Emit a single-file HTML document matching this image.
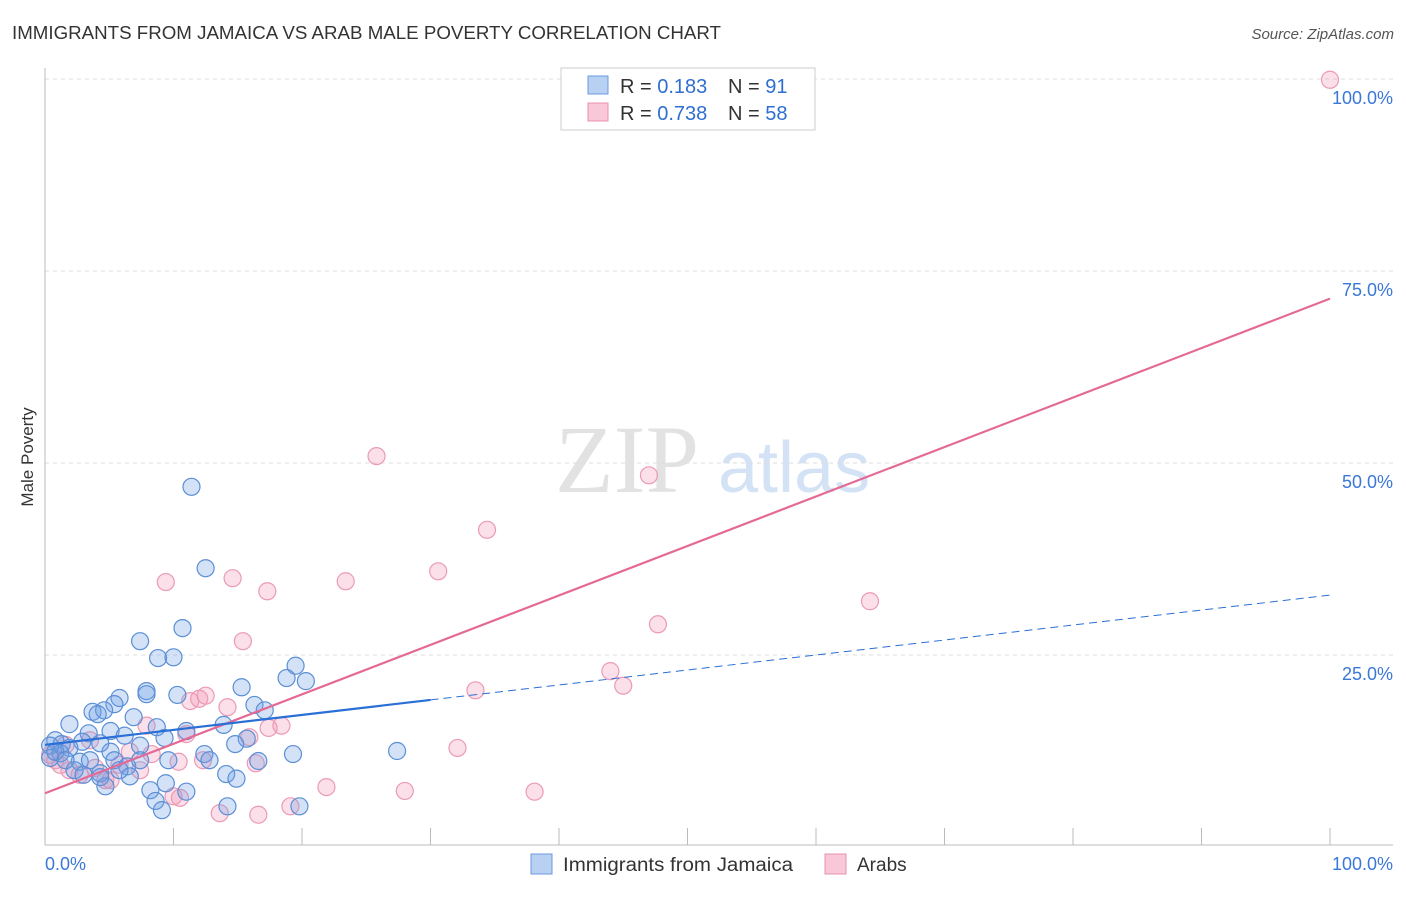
<!DOCTYPE html>
<html><head><meta charset="utf-8"><style>
body{margin:0;background:#fff;font-family:"Liberation Sans",sans-serif}
</style></head><body>
<svg id="c" width="1406" height="892" xmlns="http://www.w3.org/2000/svg" font-family="Liberation Sans, sans-serif">
<text x="12" y="39" font-size="18" fill="#333" textLength="709" lengthAdjust="spacingAndGlyphs">IMMIGRANTS FROM JAMAICA VS ARAB MALE POVERTY CORRELATION CHART</text>
<text x="1394" y="39" font-size="15" fill="#555" font-style="italic" text-anchor="end">Source: ZipAtlas.com</text>
<text x="33" y="457" font-size="17" fill="#333" text-anchor="middle" transform="rotate(-90 33 457)">Male Poverty</text>
<text x="555" y="492" font-size="96" fill="#e2e2e2" font-family="Liberation Serif, serif">ZIP</text>
<text x="718" y="492" font-size="72" fill="#d3e2f5">atlas</text>
<g id="grid"></g><g id="pts"></g><g id="lines"></g>
<g>
<rect x="561" y="68" width="254" height="62" fill="#fff" stroke="#ccc"/>
<rect x="588" y="76" width="20" height="18" fill="#b8d0f2" stroke="#6a9ae0"/>
<rect x="588" y="103" width="20" height="18" fill="#f8c8d8" stroke="#e890ae"/>
<text x="620" y="93" font-size="20" fill="#333">R = <tspan fill="#2f6fd0">0.183</tspan></text>
<text x="728" y="93" font-size="20" fill="#333">N = <tspan fill="#2f6fd0">91</tspan></text>
<text x="620" y="120" font-size="20" fill="#333">R = <tspan fill="#2f6fd0">0.738</tspan></text>
<text x="728" y="120" font-size="20" fill="#333">N = <tspan fill="#2f6fd0">58</tspan></text>
</g>
<g>
<rect x="531" y="854" width="21" height="20" fill="#b8d0f2" stroke="#6a9ae0"/>
<text x="563" y="871" font-size="19" fill="#333" textLength="230" lengthAdjust="spacingAndGlyphs">Immigrants from Jamaica</text>
<rect x="825" y="854" width="21" height="20" fill="#f8c8d8" stroke="#e890ae"/>
<text x="857" y="871" font-size="19" fill="#333">Arabs</text>
</g>
</svg>
<script>
const blueX=[11.4,12.5,10.7,7.4,8.8,10.0,19.5,20.3,18.8,15.3,7.9,7.9,10.3,5.8,5.4,16.3,3.7,4.6,4.1,17.1,6.9,1.9,13.9,8.7,11.0,5.1,3.4,6.2,9.3,15.7,0.8,2.9,4.3,1.3,14.8,0.4,1.9,7.4,5.1,1.2,19.3,27.4,12.4,12.8,9.6,16.6,5.4,2.7,6.4,0.4,2.3,3.0,4.3,6.6,14.1,14.9,4.7,9.4,8.2,11.0,8.6,14.2,19.8,9.1,4.3,0.8,1.6,3.5,5.8,7.4];
const blueY=[46.9,36.3,28.5,26.8,24.6,24.7,23.6,21.6,22.0,20.8,20.3,19.9,19.8,19.4,18.6,18.5,17.6,17.8,17.3,17.8,16.9,16.0,15.9,15.6,15.1,15.1,14.8,14.5,14.2,14.1,13.9,13.7,13.5,13.4,13.4,13.2,12.9,13.2,12.4,12.2,12.1,12.5,12.1,11.3,11.3,11.2,11.3,11.1,10.5,11.6,10.0,9.4,9.6,9.2,9.5,8.9,7.9,8.3,7.4,7.2,6.0,5.3,5.3,4.8,9.1,12.4,11.3,11.3,10.0,11.3];
const pinkX=[100,25.8,47.0,34.4,9.4,14.6,23.4,30.6,17.3,64.2,47.7,15.4,44.0,45.0,33.5,12.5,12.0,11.3,14.2,7.9,17.4,18.4,11.0,15.9,32.1,6.6,8.3,10.4,16.4,12.3,21.9,28.0,38.1,10.0,10.5,13.6,16.6,19.1,4.7,2.7,1.2,0.8,0.4,1.9,3.9,5.8,5.1,7.4,3.5,1.6];
const pinkY=[99.9,50.9,48.4,41.3,34.5,35.0,34.6,35.9,33.3,32.0,29.0,26.8,22.9,21.0,20.4,19.7,19.3,19.0,18.2,15.8,15.5,15.8,14.7,14.3,12.9,12.4,12.1,11.1,10.9,11.3,7.8,7.3,7.2,6.6,6.4,4.4,4.2,5.3,8.7,9.4,10.7,11.3,12.0,10.0,10.3,10.7,8.7,10.0,13.9,13.3];
const blueTrend=[13.3,0.195];const pinkTrend=[7.0,0.644];
const yTicks=[25,50,75,100];const yTickLabels=["25.0%","50.0%","75.0%","100.0%"];
const xTicks=[0,10,20,30,40,50,60,70,80,90,100];
const NS="http://www.w3.org/2000/svg";
const sx=v=>45+v*12.85, sy=v=>847-v*7.68;
function mk(t,a,p){const e=document.createElementNS(NS,t);for(const k in a)e.setAttribute(k,a[k]);p.appendChild(e);return e;}
const g=document.getElementById('grid');
yTicks.forEach((t,i)=>{const l=mk('line',{x1:45,x2:1393,y1:sy(t),y2:sy(t),stroke:'#ddd','stroke-dasharray':'4,4'},g);


const tx=mk('text',{x:1393,y:sy(t)+25,'font-size':18,fill:'#3a78d8','text-anchor':'end'},g);tx.textContent=yTickLabels[i];

});
let ax=mk('line',{x1:45,x2:45,y1:68,y2:845,stroke:'#bbb'},g);


let bx=mk('line',{x1:45,x2:1393,y1:845,y2:845,stroke:'#bbb'},g);


xTicks.forEach(t=>{const l=mk('line',{x1:sx(t),x2:sx(t),y1:828,y2:845,stroke:'#bbb'},g);

});
[[0,'0.0%','start',45],[100,'100.0%','end',1393]].forEach(a=>{const tx=mk('text',{x:a[3],y:870,'font-size':18,fill:'#3a78d8','text-anchor':a[2]},g);tx.textContent=a[1];

});
const p=document.getElementById('pts');
pinkX.forEach((x,i)=>{const c=mk('circle',{cx:sx(x),cy:sy(pinkY[i]),r:8.5,fill:'rgba(242,150,182,0.3)',stroke:'#eb9ab6','stroke-width':1.2},p);

});
blueX.forEach((x,i)=>{const c=mk('circle',{cx:sx(x),cy:sy(blueY[i]),r:8.5,fill:'rgba(110,160,230,0.3)',stroke:'#5b8fd6','stroke-width':1.2},p);

});
const L=document.getElementById('lines');
const bf=x=>blueTrend[0]+blueTrend[1]*x, pf=x=>pinkTrend[0]+pinkTrend[1]*x;
let l1=mk('line',{x1:sx(0),y1:sy(pf(0)),x2:sx(100),y2:sy(pf(100)),stroke:'#e46a95','stroke-width':2.2},L);


let l2=mk('line',{x1:sx(0),y1:sy(bf(0)),x2:sx(30),y2:sy(bf(30)),stroke:'#2a6fd6','stroke-width':2.2},L);


let l3=mk('line',{x1:sx(30),y1:sy(bf(30)),x2:sx(100),y2:sy(bf(100)),stroke:'#2a6fd6','stroke-width':1,'stroke-dasharray':'8,5'},L);


</script>
</body></html>
